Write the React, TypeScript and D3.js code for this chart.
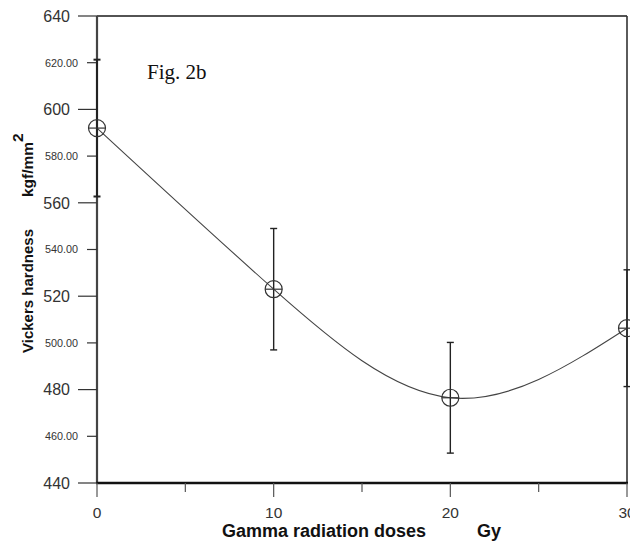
import React from "react";
import * as d3 from "d3";

const doses = [0, 10, 20, 30];
const hardness = [592, 523, 476.5, 506.3];
const errors = [29.3, 26, 23.7, 25];
const yMajorTicks = [440, 480, 520, 560, 600, 640];
const yMinorTicks = [460, 500, 540, 580, 620];
const xMajorTicks = [0, 10, 20, 30];
const xMinorTicks = [5, 15, 25];

const W = 630;
const H = 541;
const left = 97;
const right = 627;
const top = 16;
const bottom = 483;

export default function App() {
  const x = d3.scaleLinear().domain([0, 30]).range([left, right]);
  const y = d3.scaleLinear().domain([440, 640]).range([bottom, top]);
  const pts = doses.map((d, i) => [x(d), y(hardness[i])] as [number, number]);
  const line = d3.line().curve(d3.curveNatural)(pts) || "";
  const sans = "'Liberation Sans', Arial, sans-serif";
  return (
    <svg
      width={W}
      height={H}
      style={{ position: "absolute", left: 0, top: 0, background: "#fff" }}
    >
      <rect x={0} y={0} width={W} height={H} fill="#fff" />
      {/* frame */}
      <line x1={left} x2={right} y1={top} y2={top} stroke="#1a1a1a" strokeWidth={1.6} />
      <line x1={right} x2={right} y1={top} y2={bottom} stroke="#333" strokeWidth={1.6} />
      <line x1={left} x2={left} y1={top} y2={bottom} stroke="#444" strokeWidth={2.2} />
      <line x1={left - 1} x2={right + 1} y1={bottom} y2={bottom} stroke="#111" strokeWidth={2.4} />
      {/* y ticks */}
      {yMajorTicks.map((t) => (
        <g key={"ym" + t}>
          <line x1={78} x2={left} y1={y(t)} y2={y(t)} stroke="#333" strokeWidth={1.2} />
          <text x={70} y={y(t)} dy="0.36em" textAnchor="end" fontFamily={sans} fontSize={16} fill="#333">
            {t}
          </text>
        </g>
      ))}
      {yMinorTicks.map((t) => (
        <g key={"yn" + t}>
          <line x1={87} x2={left} y1={y(t)} y2={y(t)} stroke="#333" strokeWidth={1.2} />
          <text x={78} y={y(t)} dy="0.36em" textAnchor="end" fontFamily={sans} fontSize={10.8} fill="#333">
            {t.toFixed(2)}
          </text>
        </g>
      ))}
      {/* x ticks */}
      {xMajorTicks.map((t) => (
        <g key={"xm" + t}>
          <line x1={x(t)} x2={x(t)} y1={bottom} y2={497} stroke="#555" strokeWidth={1.2} />
          <text x={x(t)} y={518} textAnchor="middle" fontFamily={sans} fontSize={15.5} fill="#333">
            {t}
          </text>
        </g>
      ))}
      {xMinorTicks.map((t) => (
        <line key={"xn" + t} x1={x(t)} x2={x(t)} y1={bottom} y2={492} stroke="#555" strokeWidth={1.2} />
      ))}
      {/* axis titles */}
      <text x={222} y={537} fontFamily={sans} fontSize={18} fontWeight="bold" fill="#111">
        Gamma radiation doses
      </text>
      <text x={477} y={537} fontFamily={sans} fontSize={18} fontWeight="bold" fill="#111">
        Gy
      </text>
      <text
        transform="translate(33,291) rotate(-90)"
        textAnchor="middle"
        fontFamily={sans}
        fontSize={15}
        fontWeight="bold"
        fill="#111"
      >
        Vickers hardness
      </text>
      <text
        transform="translate(33,197) rotate(-90)"
        fontFamily={sans}
        fontSize={15.5}
        fontWeight="bold"
        fill="#111"
      >
        kgf/mm
        <tspan dy={-10} fontSize={15.5}>2</tspan>
      </text>
      {/* annotation */}
      <text x={147} y={79} fontFamily="'Liberation Serif', 'Times New Roman', serif" fontSize={21} fill="#111">
        Fig. 2b
      </text>
      {/* curve */}
      <path d={line} fill="none" stroke="#444" strokeWidth={1.1} />
      {/* error bars */}
      {doses.map((d, i) => {
        const cx = x(d);
        const y1 = y(hardness[i] + errors[i]);
        const y2 = y(hardness[i] - errors[i]);
        return (
          <g key={"e" + d} stroke="#222" strokeWidth={i === 0 ? 2 : 1.4}>
            <line x1={cx} x2={cx} y1={y1} y2={y2} />
            <line x1={cx - 3.5} x2={cx + 3.5} y1={y1} y2={y1} />
            <line x1={cx - 3.5} x2={cx + 3.5} y1={y2} y2={y2} />
          </g>
        );
      })}
      {/* markers */}
      {doses.map((d, i) => {
        const cx = x(d);
        const cy = y(hardness[i]);
        return (
          <g key={"m" + d} stroke="#333" strokeWidth={1.2} fill="none">
            <circle cx={cx} cy={cy} r={8.5} />
            <line x1={cx - 8.5} x2={cx + 8.5} y1={cy} y2={cy} />
          </g>
        );
      })}
    </svg>
  );
}
